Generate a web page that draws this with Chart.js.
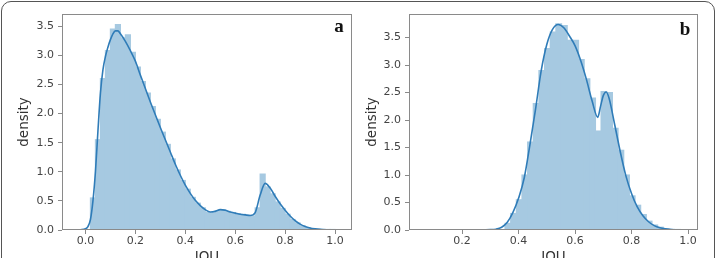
<!DOCTYPE html>
<html>
<head>
<meta charset="utf-8">
<script src="https://cdn.jsdelivr.net/npm/chart.js@4.4.1/dist/chart.umd.min.js"></script>
<style>
  html, body { margin: 0; padding: 0; background: #fff; overflow: hidden; }
  #wrap { position: relative; width: 717px; height: 258px; overflow: hidden; }
  #card { position: absolute; left: 1px; top: 1px; width: 712px; height: 300px;
          border: 1.5px solid #555; border-radius: 10px; }
  canvas { position: absolute; top: 0; }
  #pa { left: 0; }
  #pb { left: 357px; }
</style>
</head>
<body>
<div id="wrap">
  <div id="card"></div>
  <canvas id="pa" width="358" height="270"></canvas>
  <canvas id="pb" width="360" height="270"></canvas>
</div>
<script>
// panel a: histogram bin centres (width 0.02) and densities
var binsA = [0.03, 0.05, 0.07, 0.09, 0.11, 0.13, 0.15, 0.17, 0.19, 0.21, 0.23, 0.25, 0.27, 0.29, 0.31, 0.33,
  0.35, 0.37, 0.39, 0.41, 0.43, 0.45, 0.47, 0.49, 0.51, 0.53, 0.55, 0.57, 0.59, 0.61, 0.63, 0.65,
  0.67, 0.69, 0.71, 0.73, 0.75, 0.77, 0.79, 0.81, 0.83, 0.85, 0.87, 0.89, 0.91, 0.93, 0.95, 0.97, 0.99];
var histA = [0.55, 1.55, 2.6, 3.08, 3.45, 3.53, 3.3, 3.35, 3.05, 2.8, 2.55, 2.35, 2.12, 1.9, 1.68, 1.47,
  1.22, 1.03, 0.85, 0.7, 0.56, 0.46, 0.38, 0.3, 0.29, 0.33, 0.35, 0.32, 0.3, 0.28, 0.27, 0.25,
  0.24, 0.38, 0.96, 0.74, 0.62, 0.48, 0.37, 0.27, 0.18, 0.12, 0.07, 0.04, 0.02, 0.012, 0.007, 0.004, 0.002];
// panel a: kde curve
var kdeXA = [-0.04, -0.02, 0.00, 0.01, 0.02, 0.03, 0.04, 0.05, 0.06, 0.07, 0.08, 0.09, 0.10, 0.11, 0.12, 0.13,
  0.14, 0.16, 0.18, 0.20, 0.22, 0.24, 0.26, 0.28, 0.30, 0.32, 0.34, 0.36, 0.38, 0.40, 0.42, 0.44,
  0.46, 0.48, 0.50, 0.52, 0.54, 0.56, 0.58, 0.60, 0.62, 0.64, 0.66, 0.68, 0.70, 0.72, 0.74, 0.76,
  0.78, 0.80, 0.82, 0.84, 0.86, 0.88, 0.90, 0.92, 0.94, 0.97, 1.00, 1.02];
var kdeYA = [0, 0.005, 0.02, 0.06, 0.18, 0.5, 1.0, 1.7, 2.35, 2.75, 2.98, 3.14, 3.27, 3.37, 3.42, 3.42,
  3.37, 3.24, 3.08, 2.9, 2.66, 2.43, 2.2, 1.98, 1.76, 1.55, 1.34, 1.13, 0.94, 0.77, 0.63, 0.51,
  0.42, 0.35, 0.31, 0.32, 0.35, 0.34, 0.31, 0.29, 0.27, 0.26, 0.25, 0.3, 0.6, 0.8, 0.72, 0.58,
  0.45, 0.34, 0.24, 0.16, 0.1, 0.06, 0.035, 0.02, 0.01, 0.004, 0.001, 0];

// panel b
var binsB = [0.362, 0.382, 0.402, 0.422, 0.442, 0.462, 0.482, 0.502, 0.522, 0.542, 0.562, 0.582, 0.602,
  0.622, 0.642, 0.662, 0.682, 0.702, 0.722, 0.742, 0.762, 0.782, 0.802, 0.822, 0.842, 0.862, 0.882,
  0.902, 0.922, 0.942, 0.962];
var histB = [0.12, 0.3, 0.55, 1.0, 1.6, 2.3, 2.9, 3.3, 3.6, 3.75, 3.72, 3.45, 3.45,
  3.1, 2.75, 2.4, 1.8, 2.52, 2.5, 1.85, 1.45, 1.0, 0.62, 0.45, 0.28, 0.16, 0.09,
  0.05, 0.02, 0.01, 0.005];
var kdeXB = [0.06, 0.10, 0.15, 0.20, 0.25, 0.30, 0.32, 0.34, 0.36, 0.38, 0.40, 0.42, 0.44, 0.46, 0.48,
  0.50, 0.52, 0.54, 0.56, 0.58, 0.60, 0.62, 0.64, 0.66, 0.68, 0.69, 0.70, 0.71, 0.72, 0.74,
  0.76, 0.78, 0.80, 0.82, 0.84, 0.86, 0.88, 0.90, 0.92, 0.95, 0.99];
var kdeYB = [0, 0, 0, 0.001, 0.002, 0.006, 0.015, 0.05, 0.14, 0.32, 0.58, 0.95, 1.55, 2.2, 2.9,
  3.38, 3.65, 3.74, 3.68, 3.53, 3.35, 3.08, 2.74, 2.35, 2.05, 2.25, 2.45, 2.51, 2.4, 1.92,
  1.42, 0.98, 0.66, 0.42, 0.26, 0.15, 0.08, 0.04, 0.02, 0.005, 0];

// tick labels
var xTicksA = [0.0, 0.2, 0.4, 0.6, 0.8, 1.0];
var xTicksB = [0.2, 0.4, 0.6, 0.8, 1.0];
var yTicksA = [0.0, 0.5, 1.0, 1.5, 2.0, 2.5, 3.0, 3.5];
var yTicksB = [0.0, 0.5, 1.0, 1.5, 2.0, 2.5, 3.0, 3.5];

var spine = '#8a8a8a';
var tickFont = { family: 'DejaVu Sans', size: 11 };
var titleFont = { family: 'DejaVu Sans', size: 13.5 };

// box round the plot plus the panel letter
var framePlugin = {
    id: 'frame',
    afterDraw: function (chart, args, opts) {
        var ctx = chart.ctx, a = chart.chartArea;
        ctx.save();
        ctx.strokeStyle = spine;
        ctx.lineWidth = 1;
        ctx.strokeRect(Math.round(a.left) + 0.5, Math.round(a.top) + 0.5,
            Math.round(a.right - a.left) - 1, Math.round(a.bottom - a.top) - 1);
        ctx.font = 'bold 19px "Liberation Serif"';
        ctx.fillStyle = '#111';
        ctx.textAlign = 'center';
        ctx.fillText(opts.tag, opts.tx, opts.ty);
        ctx.restore();
    }
};

function makeChart(id, bins, hist, kdeX, kdeY, xMin, xMax, yMax, xTicks, yTicks, p) {
    var ctx = document.getElementById(id).getContext('2d');
    return new Chart(ctx, {
        type: 'bar',
        data: {
            datasets: [{
                type: 'line',
                data: kdeX.map(function (x, i) { return { x: x, y: kdeY[i] }; }),
                borderColor: '#2f7cb8',
                borderWidth: 1.6,
                pointRadius: 0,
                cubicInterpolationMode: 'monotone',
                fill: false,
                order: 0
            }, {
                type: 'bar',
                data: bins.map(function (x, i) { return { x: x, y: hist[i] }; }),
                backgroundColor: 'rgb(166, 201, 225)',
                borderWidth: 0,
                inflateAmount: 0.6,
                categoryPercentage: 1.0,
                barPercentage: 1.0,
                order: 1
            }]
        },
        options: {
            responsive: false,
            animation: false,
            devicePixelRatio: 1,
            layout: { padding: { left: 0, right: p.right, top: 14, bottom: 0 } },
            plugins: {
                legend: { display: false },
                tooltip: { enabled: false },
                frame: { tag: p.tag, tx: p.tx, ty: p.ty }
            },
            scales: {
                x: {
                    type: 'linear',
                    offset: false,
                    min: xMin,
                    max: xMax,
                    afterBuildTicks: function (s) { s.ticks = xTicks.map(function (v) { return { value: v }; }); },
                    afterFit: function (s) { s.height = 40; },
                    grid: { display: true, drawOnChartArea: false, drawTicks: true, tickLength: 4, color: spine, offset: false },
                    border: { display: false },
                    ticks: {
                        font: tickFont, color: '#444', padding: 1, maxRotation: 0, autoSkip: false,
                        callback: function (v) { return v.toFixed(1); }
                    },
                    title: { display: true, text: 'IOU', font: titleFont, color: '#333', padding: { top: 0, bottom: 4 } }
                },
                y: {
                    min: 0,
                    max: yMax,
                    afterBuildTicks: function (s) { s.ticks = yTicks.map(function (v) { return { value: v }; }); },
                    afterFit: function (s) { s.width = p.yw; },
                    grid: { display: true, drawOnChartArea: false, drawTicks: true, tickLength: 4, color: spine },
                    border: { display: false },
                    ticks: {
                        font: tickFont, color: '#444', padding: 4,
                        callback: function (v) { return v.toFixed(1); }
                    },
                    title: { display: true, text: 'density', font: titleFont, color: '#333', padding: { top: p.tp, bottom: 0 } }
                }
            }
        },
        plugins: [framePlugin]
    });
}

makeChart('pa', binsA, histA, kdeXA, kdeYA, -0.094, 1.068, 3.71, xTicksA, yTicksA,
    { right: 6, yw: 62, tp: 16, tag: 'a', tx: 339, ty: 32 });
makeChart('pb', binsB, histB, kdeXB, kdeYB, 0.012, 1.035, 3.93, xTicksB, yTicksB,
    { right: 19, yw: 52, tp: 7, tag: 'b', tx: 328, ty: 35 });
</script>
</body>
</html>
